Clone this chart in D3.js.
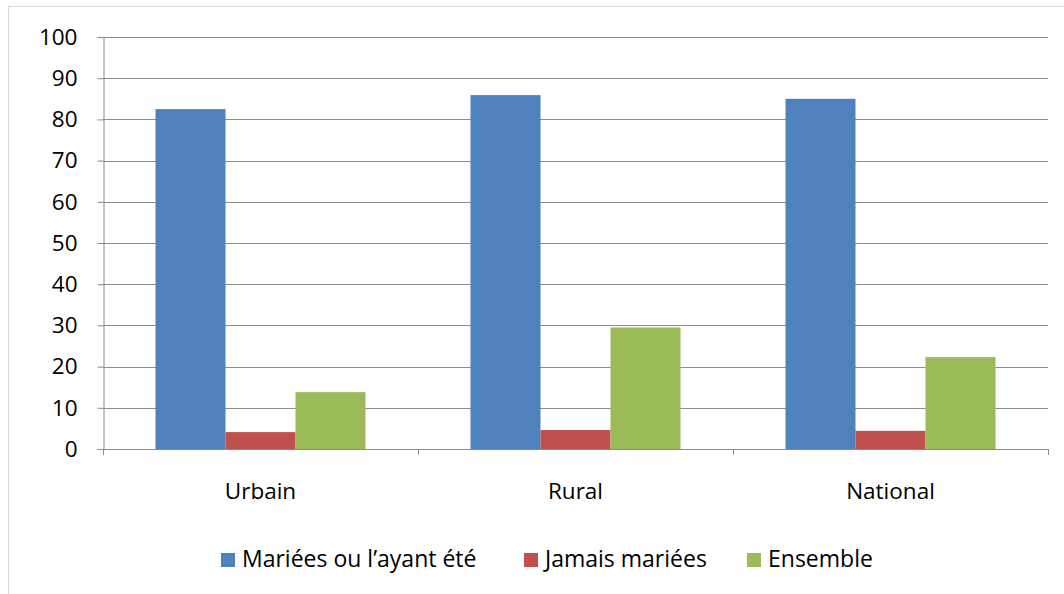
<!DOCTYPE html>
<html>
<head>
<meta charset="utf-8">
<script src="https://cdn.jsdelivr.net/npm/d3@7"></script>
<style>
  body { margin: 0; background: #fff; }
  text { font-family: "Open Sans", Lato, sans-serif; fill: #000; }
</style>
</head>
<body>
<div id="chart"></div>
<script>
const categories = ["Urbain", "Rural", "National"];
const seriesNames = ["Mariées ou l’ayant été", "Jamais mariées", "Ensemble"];
const seriesColors = ["#4F81BD", "#C0504D", "#9BBB59"];
const marriedValues = [82.5, 85.9, 85.0];
const neverMarriedValues = [4.1, 4.6, 4.4];
const totalValues = [13.8, 29.5, 22.3];
const yTicks = [0, 10, 20, 30, 40, 50, 60, 70, 80, 90, 100];

const seriesValues = [marriedValues, neverMarriedValues, totalValues];

const width = 1064, height = 594;
const plot = { left: 103, right: 1048, top: 37, bottom: 449 };
const fontSize = 22.5;
const legendFontSize = 23;

const svg = d3.select("#chart").append("svg")
    .attr("width", width)
    .attr("height", height);

// outer chart border
svg.append("rect")
    .attr("x", 8.5).attr("y", 6.5)
    .attr("width", 1100).attr("height", 700)
    .attr("fill", "none")
    .attr("stroke", "#d9d9d9");

const y = d3.scaleLinear().domain([0, 100]).range([plot.bottom, plot.top]);

const x0 = d3.scaleBand()
    .domain(categories)
    .range([plot.left, plot.right])
    .paddingInner(1 / 3)
    .paddingOuter(1 / 6);

const x1 = d3.scaleBand()
    .domain(d3.range(seriesNames.length))
    .range([0, x0.bandwidth()]);

// gridlines
svg.append("g")
    .selectAll("line")
    .data(yTicks.filter(d => d > 0))
    .enter()
    .append("line")
    .attr("x1", plot.left)
    .attr("x2", plot.right)
    .attr("y1", d => Math.round(y(d)) + 0.5)
    .attr("y2", d => Math.round(y(d)) + 0.5)
    .attr("stroke", "#8c8c8c")
    .attr("stroke-width", 1);

// bars
const groups = svg.append("g")
    .selectAll("g")
    .data(categories)
    .enter()
    .append("g")
    .attr("transform", d => `translate(${x0(d)},0)`);

groups.selectAll("rect")
    .data((d, i) => seriesValues.map((vals, s) => ({ s, v: vals[i] })))
    .enter()
    .append("rect")
    .attr("x", d => x1(d.s))
    .attr("width", x1.bandwidth())
    .attr("y", d => y(d.v))
    .attr("height", d => y(0) - y(d.v))
    .attr("fill", d => seriesColors[d.s]);

// y axis
const yAxis = svg.append("g")
    .attr("transform", `translate(${plot.left + 0.5},0)`)
    .call(d3.axisLeft(y).tickValues(yTicks).tickSize(6).tickPadding(20));
yAxis.select(".domain").attr("stroke", "#8c8c8c");
yAxis.selectAll(".tick line").attr("stroke", "#8c8c8c");
yAxis.selectAll(".tick text")
    .attr("font-size", fontSize)
    .attr("font-family", "'Open Sans', Lato, sans-serif");

// x axis line and ticks at category boundaries
svg.append("line")
    .attr("x1", plot.left).attr("x2", plot.right)
    .attr("y1", plot.bottom + 0.5).attr("y2", plot.bottom + 0.5)
    .attr("stroke", "#8c8c8c");

const boundaries = [plot.left].concat(categories.map(c => x0(c) + x0.bandwidth() + x0.step() * x0.paddingInner() / 2));
svg.append("g")
    .selectAll("line")
    .data(boundaries)
    .enter()
    .append("line")
    .attr("x1", d => Math.round(d) + 0.5)
    .attr("x2", d => Math.round(d) + 0.5)
    .attr("y1", plot.bottom)
    .attr("y2", plot.bottom + 6)
    .attr("stroke", "#8c8c8c");

svg.append("g")
    .selectAll("text")
    .data(categories)
    .enter()
    .append("text")
    .attr("x", d => x0(d) + x0.bandwidth() / 2)
    .attr("y", 499)
    .attr("text-anchor", "middle")
    .attr("font-size", fontSize)
    .text(d => d);

// legend
const legendX = [221, 524, 747];
const legend = svg.append("g")
    .selectAll("g")
    .data(seriesNames)
    .enter()
    .append("g")
    .attr("transform", (d, i) => `translate(${legendX[i]},553)`);

legend.append("rect")
    .attr("width", 14)
    .attr("height", 14)
    .attr("fill", (d, i) => seriesColors[i]);

legend.append("text")
    .attr("x", 21)
    .attr("y", 14)
    .attr("font-size", legendFontSize)
    .text(d => d);
</script>
</body>
</html>
